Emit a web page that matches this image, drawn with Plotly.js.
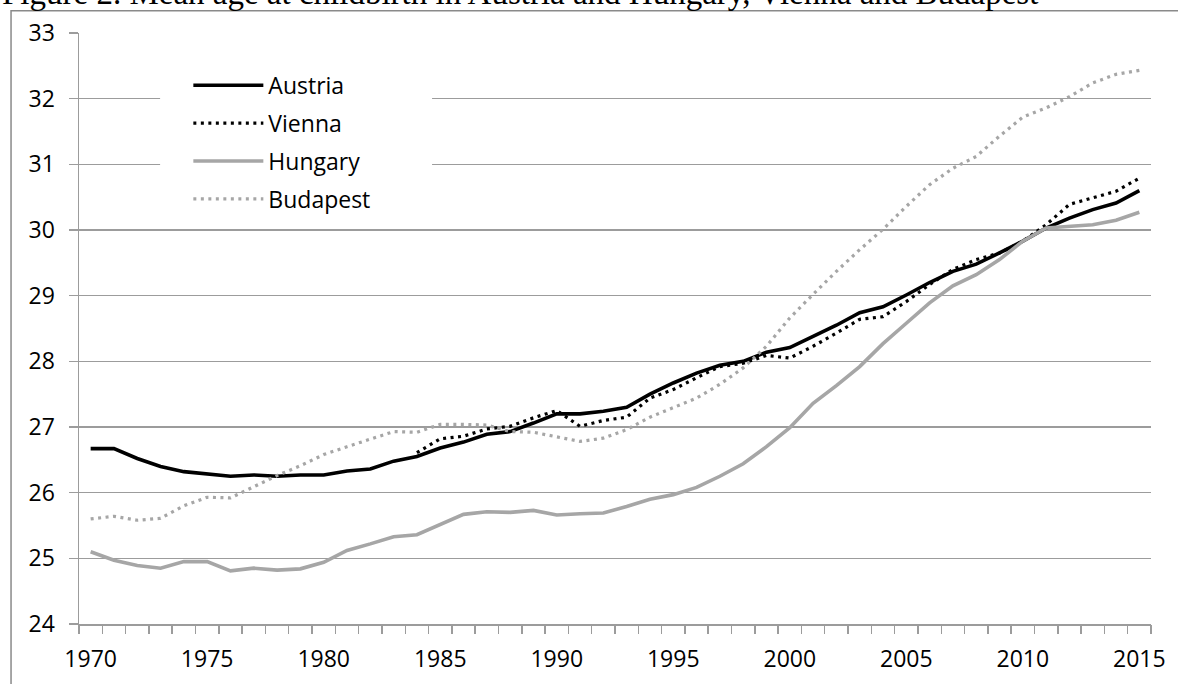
<!DOCTYPE html>
<html>
<head>
<meta charset="utf-8">
<script src="https://cdn.plot.ly/plotly-3.0.1.min.js"></script>
<style>
html,body{margin:0;padding:0;background:#fff;}
#chart{width:1178px;height:684px;}
</style>
</head>
<body>
<div id="chart"></div>
<script>
const years = [1970,1971,1972,1973,1974,1975,1976,1977,1978,1979,1980,1981,1982,1983,1984,1985,1986,1987,1988,1989,1990,1991,1992,1993,1994,1995,1996,1997,1998,1999,2000,2001,2002,2003,2004,2005,2006,2007,2008,2009,2010,2011,2012,2013,2014,2015];

const austria = [26.67,26.67,26.52,26.40,26.32,26.28,26.25,26.27,26.25,26.27,26.27,26.33,26.36,26.48,26.55,26.68,26.77,26.89,26.93,27.06,27.20,27.20,27.24,27.30,27.50,27.67,27.82,27.94,28.00,28.14,28.21,28.38,28.55,28.74,28.83,29.01,29.20,29.37,29.48,29.65,29.83,30.03,30.18,30.31,30.41,30.60];

const viennaYears = [1984,1985,1986,1987,1988,1989,1990,1991,1992,1993,1994,1995,1996,1997,1998,1999,2000,2001,2002,2003,2004,2005,2006,2007,2008,2009,2010,2011,2012,2013,2014,2015];
const vienna = [26.61,26.82,26.86,26.97,27.01,27.14,27.25,27.01,27.10,27.15,27.44,27.57,27.75,27.92,27.97,28.09,28.05,28.23,28.43,28.64,28.68,28.91,29.17,29.40,29.55,29.65,29.83,30.08,30.39,30.49,30.59,30.79];

const hungary = [25.10,24.97,24.89,24.85,24.95,24.95,24.81,24.85,24.82,24.84,24.94,25.12,25.22,25.33,25.36,25.51,25.67,25.71,25.70,25.73,25.66,25.68,25.69,25.79,25.90,25.97,26.08,26.25,26.44,26.70,26.99,27.36,27.63,27.92,28.27,28.58,28.89,29.15,29.32,29.55,29.83,30.03,30.05,30.08,30.15,30.27];

const budapest = [25.60,25.64,25.58,25.61,25.80,25.93,25.92,26.09,26.26,26.41,26.58,26.70,26.82,26.93,26.92,27.04,27.04,27.03,26.93,26.92,26.85,26.78,26.83,26.96,27.15,27.29,27.44,27.65,27.90,28.23,28.66,29.02,29.37,29.70,30.01,30.36,30.69,30.94,31.12,31.43,31.72,31.86,32.03,32.24,32.37,32.43];

const xTickVals = [1970,1975,1980,1985,1990,1995,2000,2005,2010,2015];
const xTickText = ['1970','1975','1980','1985','1990','1995','2000','2005','2010','2015'];

const titleText = 'Figure 2. Mean age at childbirth in Austria and Hungary, Vienna and Budapest';

const FONT = 'Open Sans, sans-serif';
const GRID = '#9c9c9c';

const traces = [
  {x: years, y: austria, name: 'Austria', type: 'scatter', mode: 'lines',
   line: {color: '#000000', width: 3.6}, legendgroup: 'a'},
  {x: viennaYears, y: vienna, name: 'Vienna', type: 'scatter', mode: 'lines',
   line: {color: '#000000', width: 3.2, dash: '3px,4.5px'}, legendgroup: 'v'},
  {x: years, y: hungary, name: 'Hungary', type: 'scatter', mode: 'lines',
   line: {color: '#a6a6a6', width: 3.6}, legendgroup: 'h'},
  {x: years, y: budapest, name: 'Budapest', type: 'scatter', mode: 'lines',
   line: {color: '#a6a6a6', width: 3.2, dash: '3px,4.5px'}, legendgroup: 'b'},
  {x: [years[0]], y: [null], xaxis: 'x2', showlegend: false, hoverinfo: 'skip', type: 'scatter', mode: 'lines'}
];

const layout = {
  width: 1178, height: 684,
  margin: {l: 79, r: 27, t: 33, b: 60},
  paper_bgcolor: '#ffffff', plot_bgcolor: '#ffffff',
  font: {family: FONT, size: 23, color: '#000000'},
  showlegend: true,
  legend: {
    x: 0.102, y: 0.948, xanchor: 'left', yanchor: 'top',
    bgcolor: '#ffffff', borderwidth: 0,
    font: {family: FONT, size: 23, color: '#000000'},
    traceorder: 'grouped', tracegroupgap: 5, itemwidth: 70
  },
  xaxis: {
    range: [1969.5, 2015.5], tickmode: 'array', tickvals: xTickVals, ticktext: xTickText,
    ticks: '', showgrid: false, zeroline: false, showline: true, linecolor: GRID, linewidth: 1.5,
    tickfont: {family: FONT, size: 23, color: '#000'}, ticklabelstandoff: 14
  },
  xaxis2: {
    overlaying: 'x', matches: 'x', range: [1969.5, 2015.5], tickmode: 'linear', tick0: 1969.5, dtick: 1,
    ticks: 'outside', ticklen: 9, tickcolor: GRID, tickwidth: 1.5, showticklabels: false,
    showgrid: false, zeroline: false, showline: false, side: 'bottom'
  },
  yaxis: {
    range: [24, 33], tickmode: 'linear', tick0: 24, dtick: 1,
    ticks: 'outside', ticklen: 9, tickcolor: GRID, tickwidth: 1.5,
    showgrid: true, gridcolor: GRID, gridwidth: 1.5, zeroline: false,
    showline: true, linecolor: GRID, linewidth: 1.5,
    tickfont: {family: FONT, size: 23, color: '#000'}, ticklabelstandoff: 9
  },
  shapes: [
    {type: 'rect', xref: 'paper', yref: 'paper', x0: -0.0634, x1: 1.2, y0: -0.3, y1: 1.0377,
     line: {color: '#8a8a8a', width: 1.5}, fillcolor: 'rgba(0,0,0,0)', layer: 'below'},
    {type: 'rect', xref: 'x', yref: 'y', x0: 1972.98, x1: 1984.65, y0: 30.23, y1: 32.67,
     line: {width: 0}, fillcolor: '#ffffff', layer: 'above'}
  ],
  annotations: [
    {text: titleText, xref: 'paper', yref: 'paper', x: -0.0737, y: 1.034, xanchor: 'left', yanchor: 'bottom',
     showarrow: false, font: {family: 'Liberation Serif, serif', size: 33, color: '#000'}}
  ]
};

Plotly.newPlot('chart', traces, layout, {displayModeBar: false, staticPlot: true});
</script>
</body>
</html>
